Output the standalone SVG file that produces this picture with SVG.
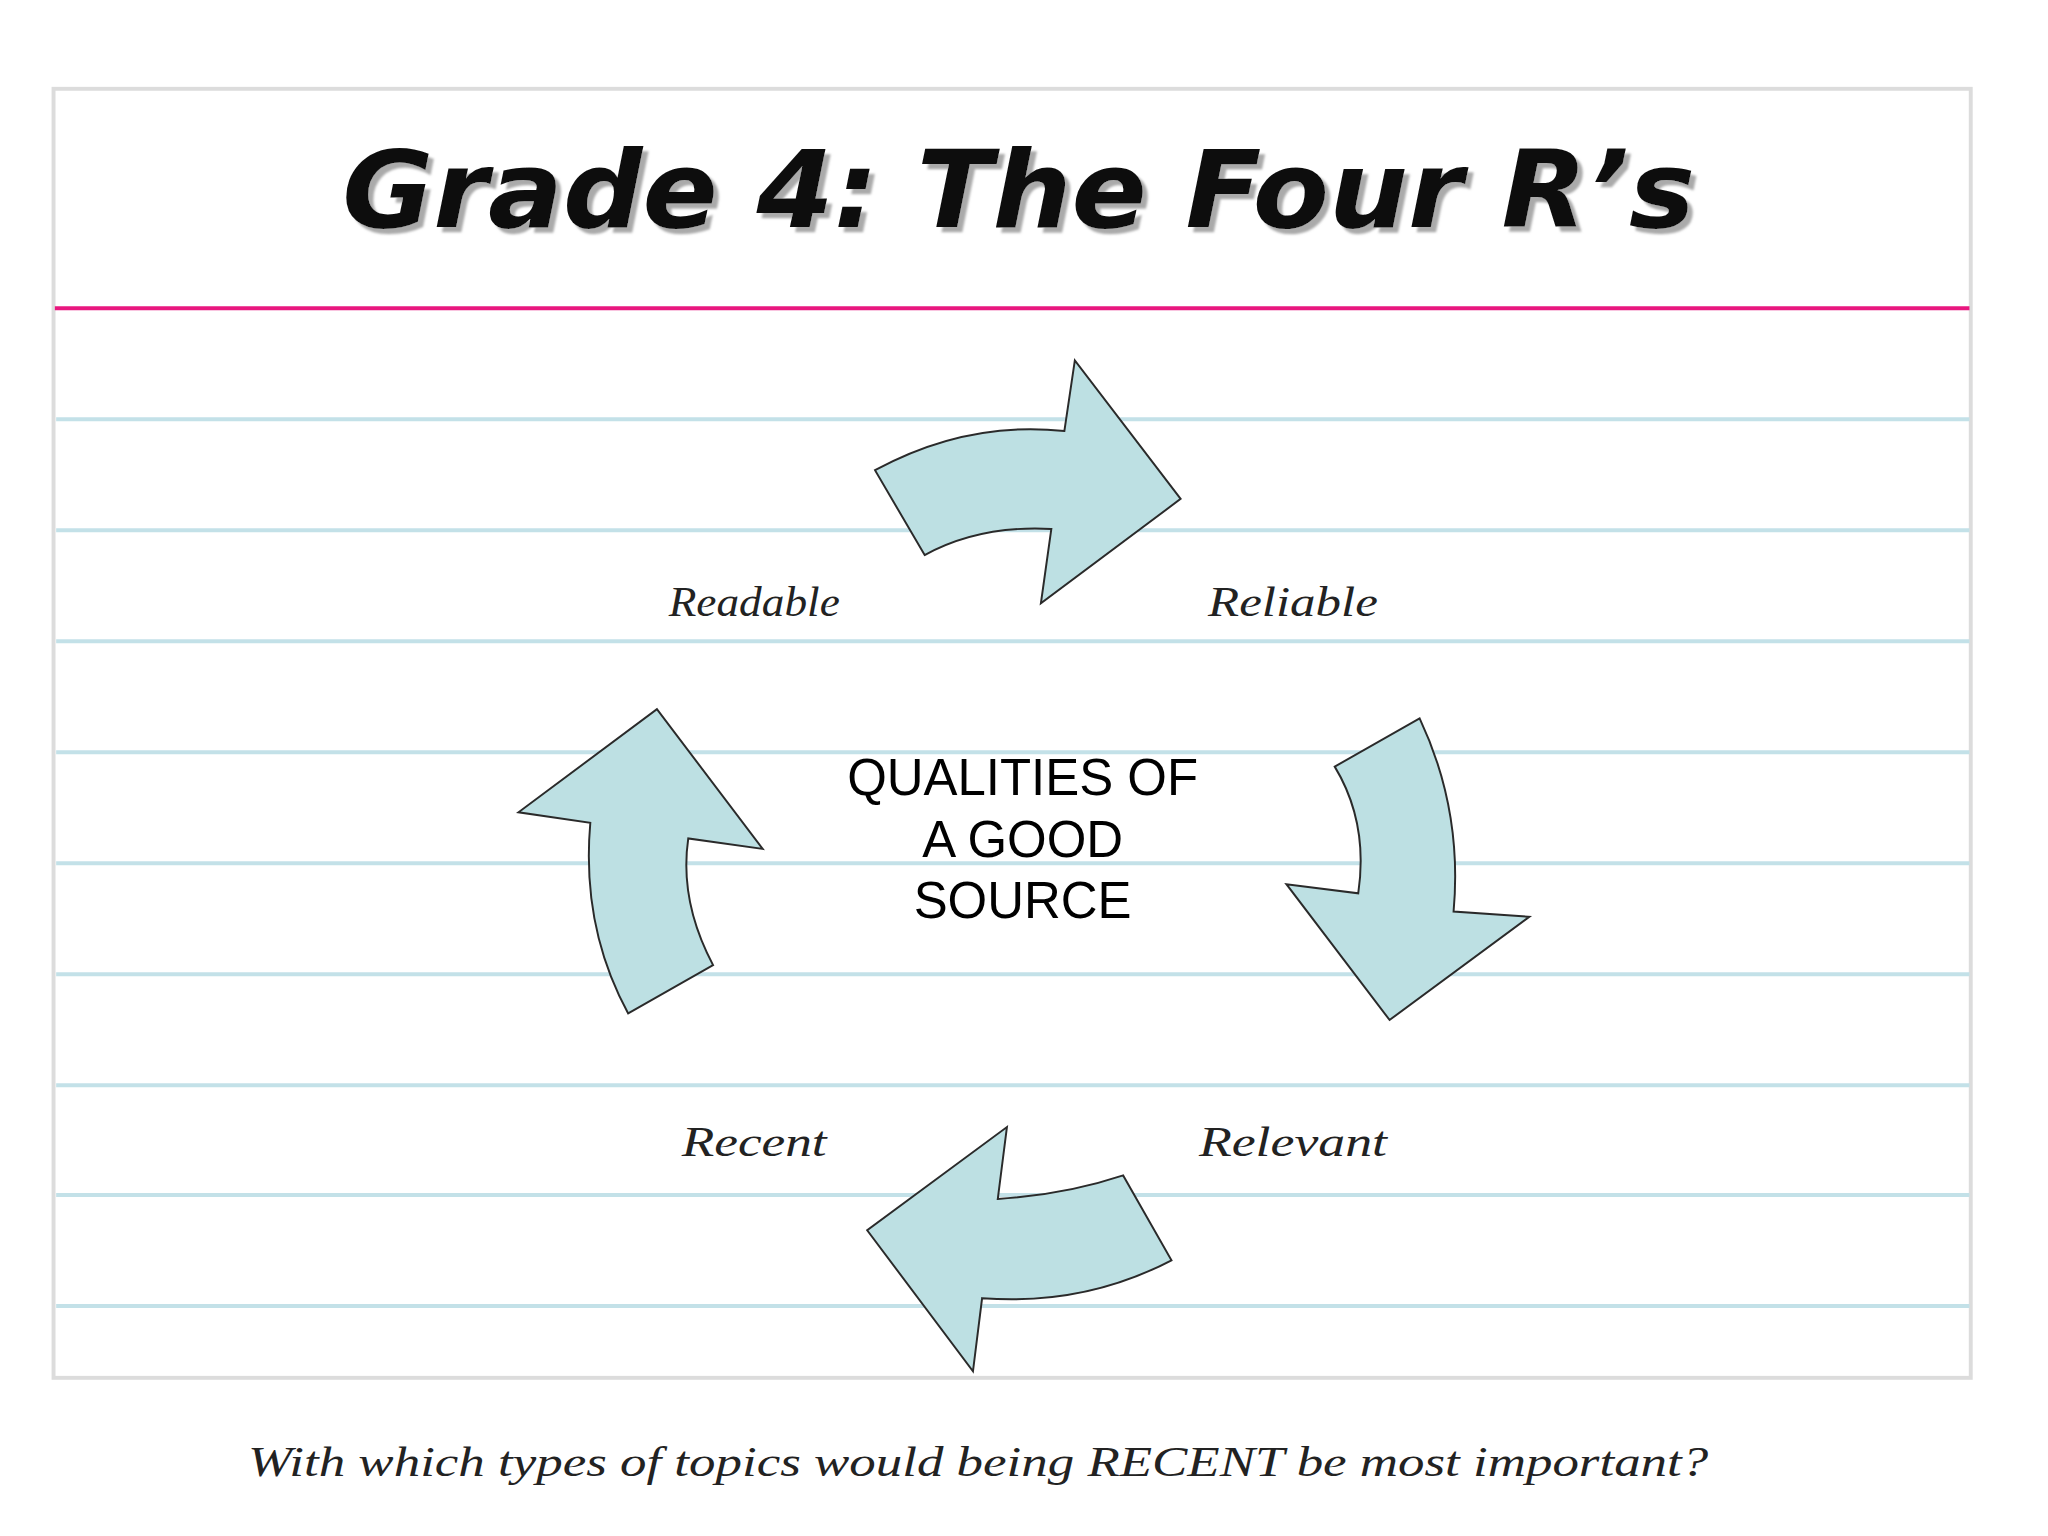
<svg xmlns="http://www.w3.org/2000/svg" width="2048" height="1536" viewBox="0 0 2048 1536">
<style>
.rule{stroke:#c3e1e8;stroke-width:3}
.arrow{fill:#bde0e3;stroke:#2a2a2a;stroke-width:1.5;stroke-linejoin:miter}
.lbl{font-family:"Liberation Serif",serif;font-style:italic;font-size:32px;fill:#222}
.ctr{font-family:"Liberation Sans",Arial,sans-serif;font-size:39px;fill:#000;text-anchor:middle}
</style>
<defs><filter id="sh" x="-5%" y="-20%" width="110%" height="140%"><feDropShadow dx="4" dy="4" stdDeviation="1" flood-color="#aaa"/></filter></defs>
<rect width="2048" height="1536" fill="#fff"/>
<g transform="scale(1.306)">
<g id="card">
<rect x="41" y="68" width="1468" height="987" fill="#fff" stroke="#dcdcdc" stroke-width="3"/>
<line x1="42" y1="236" x2="1508" y2="236" stroke="#e8177f" stroke-width="3"/>
<g class="rule">
<line x1="43" y1="321" x2="1508" y2="321"/><line x1="43" y1="406" x2="1508" y2="406"/>
<line x1="43" y1="491" x2="1508" y2="491"/><line x1="43" y1="576" x2="1508" y2="576"/>
<line x1="43" y1="661" x2="1508" y2="661"/><line x1="43" y1="746" x2="1508" y2="746"/>
<line x1="43" y1="831" x2="1508" y2="831"/><line x1="43" y1="915" x2="1508" y2="915"/>
<line x1="43" y1="1000" x2="1508" y2="1000"/>
</g>
</g>
<g id="title">
<text x="780" y="174" filter="url(#sh)" font-family="DejaVu Sans,sans-serif" font-size="82" font-weight="bold" font-style="italic" fill="#111" text-anchor="middle" textLength="1036" lengthAdjust="spacingAndGlyphs">Grade 4: The Four R’s</text>
</g>
<g id="connectors">
<path class="arrow" d="M670,360 Q740,322 815,330 L823,276 L904,382 L797,462 L805,405 Q750,402 708,425 Z"/>
<path class="arrow" d="M1087,550 Q1120,620 1113,698 L1171,702 L1064,781 L985,677 L1040,684 Q1048,630 1022,587 Z"/>
<path class="arrow" d="M897,965 Q830,1000 752,994 L745,1050 L664,942 L771,863 L764,918 Q815,915 860,900 Z"/>
<path class="arrow" d="M481,776 Q445,710 452,630 L397,622 L503,543 L584,650 L527,642 Q520,690 546,739 Z"/>
</g>
<g id="center"><text class="ctr" x="783" y="609">QUALITIES OF</text><text class="ctr" x="783" y="656">A GOOD</text><text class="ctr" x="783" y="703">SOURCE</text></g>
<g id="readable"><text class="lbl" x="512" y="472" textLength="131" lengthAdjust="spacingAndGlyphs">Readable</text></g>
<g id="reliable"><text class="lbl" x="925" y="472" textLength="130" lengthAdjust="spacingAndGlyphs">Reliable</text></g>
<g id="recent"><text class="lbl" x="522" y="885" textLength="111" lengthAdjust="spacingAndGlyphs">Recent</text></g>
<g id="relevant"><text class="lbl" x="918" y="885" textLength="144" lengthAdjust="spacingAndGlyphs">Relevant</text></g>
<text class="lbl" x="190" y="1130" font-size="34" textLength="1118" lengthAdjust="spacingAndGlyphs">With which types of topics would being RECENT be most important?</text>
</g>
</svg>
